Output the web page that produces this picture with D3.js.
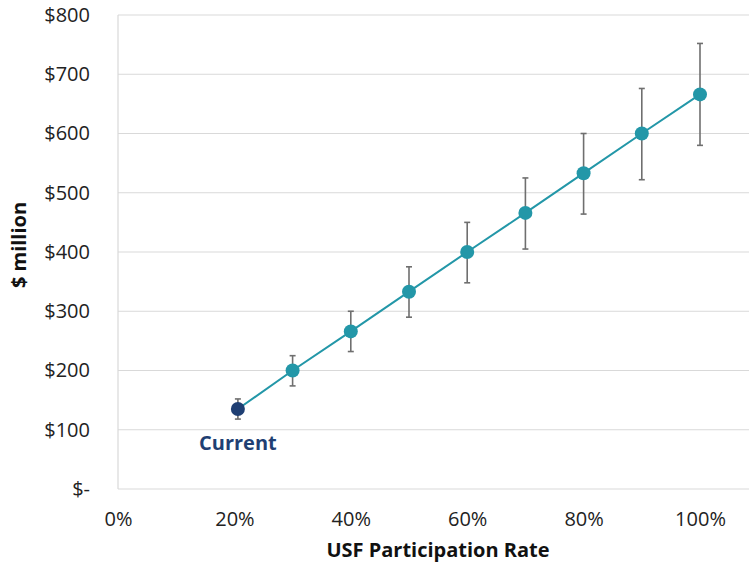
<!DOCTYPE html>
<html>
<head>
<meta charset="utf-8">
<script src="https://cdn.jsdelivr.net/npm/d3@7"></script>
<style>
  html, body { margin: 0; padding: 0; background: #fff; }
  svg { display: block; font-family: "Open Sans", "Liberation Sans", sans-serif; }
</style>
</head>
<body>
<svg id="chart" width="749" height="567"></svg>
<script>
// Participation rate (share) and estimated cost in $ million, with low/high range
const rates  = [0.206, 0.30, 0.40, 0.50, 0.60, 0.70, 0.80, 0.90, 1.00];
const costs  = [135, 200, 266, 333, 400, 466, 533, 600, 666];
const lows   = [118, 174, 232, 290, 348, 405, 464, 522, 580];
const highs  = [152, 225, 300, 375, 450, 525, 600, 676, 752];
const xTicks = [0, 0.2, 0.4, 0.6, 0.8, 1.0];
const yTicks = [0, 100, 200, 300, 400, 500, 600, 700, 800];
const currentLabel = "Current";

const svg = d3.select("#chart");
const plotLeft = 118, plotRight = 749, plotTop = 15, plotBottom = 489;

const x = d3.scaleLinear().domain([0, 1]).range([plotLeft, 700]);
const y = d3.scaleLinear().domain([0, 800]).range([plotBottom, plotTop]);

// horizontal gridlines
svg.append("g")
  .selectAll("line")
  .data(yTicks)
  .join("line")
  .attr("x1", plotLeft).attr("x2", plotRight)
  .attr("y1", d => y(d)).attr("y2", d => y(d))
  .attr("stroke", "#d9d9d9").attr("stroke-width", 1.2);

// left axis line
svg.append("line")
  .attr("x1", plotLeft).attr("x2", plotLeft)
  .attr("y1", plotTop).attr("y2", plotBottom)
  .attr("stroke", "#d9d9d9").attr("stroke-width", 1.2);

// y axis labels
const yAxis = d3.axisLeft(y).tickValues(yTicks)
  .tickFormat(d => d === 0 ? "$-" : "$" + d)
  .tickSize(0).tickPadding(28);
const gy = svg.append("g").attr("transform", `translate(${plotLeft},0)`).call(yAxis);
gy.select(".domain").remove();
gy.selectAll("text").attr("font-size", 20).attr("fill", "#222")
  .attr("font-family", "'Open Sans', sans-serif");

// x axis labels
const xAxis = d3.axisBottom(x).tickValues(xTicks)
  .tickFormat(d3.format(".0%")).tickSize(0).tickPadding(23);
const gx = svg.append("g").attr("transform", `translate(0,${plotBottom})`).call(xAxis);
gx.select(".domain").remove();
gx.selectAll("text").attr("font-size", 20).attr("fill", "#222")
  .attr("font-family", "'Open Sans', sans-serif");

// axis titles
svg.append("text")
  .attr("x", 438).attr("y", 557)
  .attr("text-anchor", "middle")
  .attr("font-size", 20).attr("font-weight", "bold").attr("fill", "#111")
  .text("USF Participation Rate");

svg.append("text")
  .attr("transform", "translate(26,245) rotate(-90)")
  .attr("text-anchor", "middle")
  .attr("font-size", 20).attr("font-weight", "bold").attr("fill", "#111")
  .text("$ million");

const pts = rates.map((r, i) => ({ r, c: costs[i], lo: lows[i], hi: highs[i], i }));

// connecting line
svg.append("path")
  .datum(pts)
  .attr("fill", "none")
  .attr("stroke", "#2397a8").attr("stroke-width", 2)
  .attr("d", d3.line().x(d => x(d.r)).y(d => y(d.c)));

// error bars
const eb = svg.append("g").attr("stroke", "#6f6f6f").attr("stroke-width", 1.6);
eb.selectAll("line.v").data(pts).join("line").attr("class", "v")
  .attr("x1", d => x(d.r)).attr("x2", d => x(d.r))
  .attr("y1", d => y(d.lo)).attr("y2", d => y(d.hi));
eb.selectAll("line.t").data(pts).join("line").attr("class", "t")
  .attr("x1", d => x(d.r) - 3).attr("x2", d => x(d.r) + 3)
  .attr("y1", d => y(d.hi)).attr("y2", d => y(d.hi));
eb.selectAll("line.b").data(pts).join("line").attr("class", "b")
  .attr("x1", d => x(d.r) - 3).attr("x2", d => x(d.r) + 3)
  .attr("y1", d => y(d.lo)).attr("y2", d => y(d.lo));

// markers
svg.append("g").selectAll("circle").data(pts).join("circle")
  .attr("cx", d => x(d.r)).attr("cy", d => y(d.c)).attr("r", 7)
  .attr("fill", d => d.i === 0 ? "#1f3f73" : "#2397a8");

// current label
svg.append("text")
  .attr("x", x(rates[0])).attr("y", 450)
  .attr("text-anchor", "middle")
  .attr("font-size", 20).attr("font-weight", "bold").attr("fill", "#1f3f73")
  .text(currentLabel);
</script>
</body>
</html>
